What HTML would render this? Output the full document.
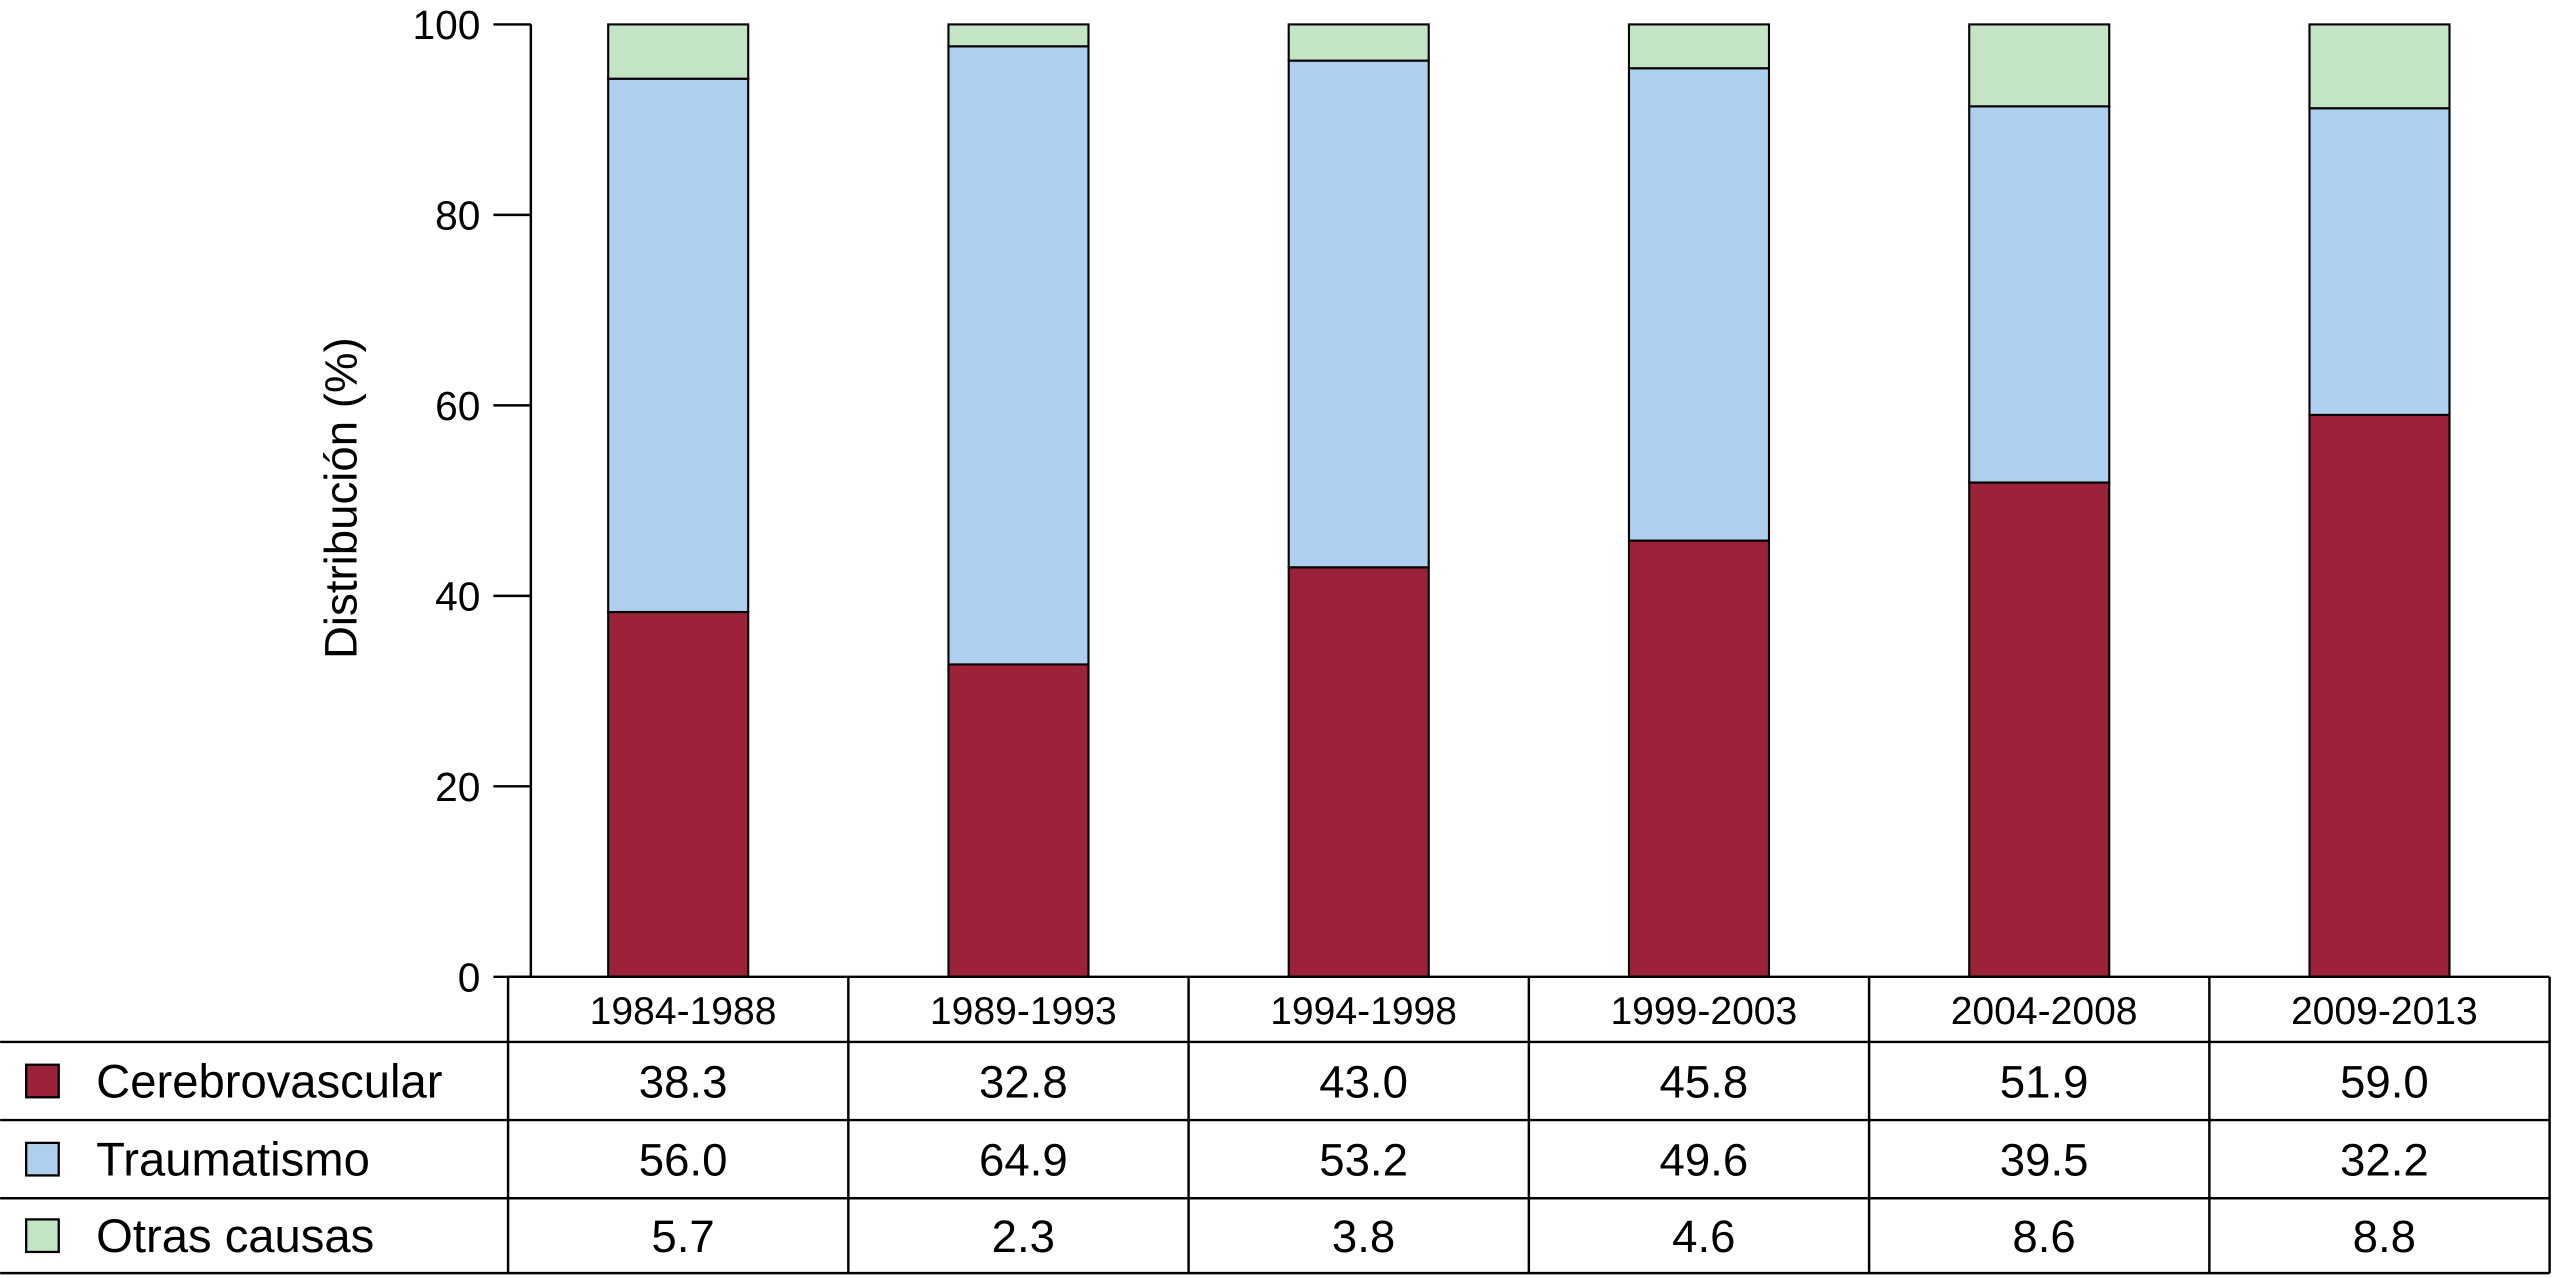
<!DOCTYPE html>
<html><head><meta charset="utf-8"><style>
html,body{margin:0;padding:0;background:#fff;}
svg{display:block;font-family:"Liberation Sans",sans-serif;}
</style></head><body>
<svg id="chart" width="2553" height="1278" viewBox="0 0 1568 785" xmlns="http://www.w3.org/2000/svg"></svg>
<script>
const categories=["1984-1988","1989-1993","1994-1998","1999-2003","2004-2008","2009-2013"];
const cerebro=[38.3,32.8,43.0,45.8,51.9,59.0];
const trauma=[56.0,64.9,53.2,49.6,39.5,32.2];
const otras=[5.7,2.3,3.8,4.6,8.6,8.8];
const seriesNames=["Cerebrovascular","Traumatismo","Otras causas"];
const yTicks=[0,20,40,60,80,100];

const svg=document.getElementById('chart');
const NS="http://www.w3.org/2000/svg";
function mk(t,a,p){const e=document.createElementNS(NS,t);for(const k in a)e.setAttribute(k,a[k]);(p||svg).appendChild(e);return e;}
const y0=600,yTop=15,axisX=326;
const yS=v=>y0-(v/100)*(y0-yTop);
const colL=312,colR=1566,colW=(colR-colL)/categories.length;
const xC=i=>colL+colW*(i+0.5);
const barW=86;
const colors=["#9b2238","#afcfee","#c3e5c5"];
const series=[cerebro,trauma,otras];

const ax=mk('line',{x1:axisX,y1:yTop,x2:axisX,y2:y0,stroke:'#000','stroke-width':1.5});


yTicks.forEach(v=>{
  const t=mk('line',{x1:303,y1:yS(v),x2:axisX,y2:yS(v),stroke:'#000','stroke-width':1.5});
  
  
  const l=mk('text',{x:295,y:yS(v)+9,'text-anchor':'end','font-size':25});
  l.textContent=String(v);
  
  
});
const yt=mk('text',{x:0,y:0,'text-anchor':'middle','font-size':28,transform:'translate(219,306) rotate(-90)'});
yt.textContent="Distribución (%)";



categories.forEach((c,i)=>{
  let base=0;
  series.forEach((s,k)=>{
    const top=(k===2)?100:base+s[i];
    const r=mk('rect',{x:xC(i)-barW/2,y:yS(top),width:barW,height:yS(base)-yS(top),fill:colors[k],stroke:'#000','stroke-width':1.3});
    
    
    base=top;
  });
});

const rows=[600,640,688,736,782];
const g=mk('g',{});


mk('line',{x1:colL,y1:600,x2:colR,y2:600,stroke:'#000','stroke-width':1.5},g);
for(let r=1;r<rows.length;r++)mk('line',{x1:0,y1:rows[r],x2:colR,y2:rows[r],stroke:'#000','stroke-width':1.5},g);
for(let i=0;i<=categories.length;i++)mk('line',{x1:colL+colW*i,y1:600,x2:colL+colW*i,y2:782,stroke:'#000','stroke-width':1.5},g);
categories.forEach((c,i)=>{
  const t=mk('text',{x:xC(i)+3,y:629,'text-anchor':'middle','font-size':24},g);
  t.textContent=c;
  
  
});
series.forEach((s,k)=>{
  const cy=(rows[k+1]+rows[k+2])/2;
  const sw=mk('rect',{x:16,y:cy-10,width:20,height:20,fill:colors[k],stroke:'#000','stroke-width':1.4},g);
  
  
  const n=mk('text',{x:59,y:cy+10,'font-size':29},g);
  n.textContent=seriesNames[k];
  
  
  s.forEach((v,i)=>{
    const t=mk('text',{x:xC(i)+3,y:cy+10,'text-anchor':'middle','font-size':28},g);
    t.textContent=v.toFixed(1);
    
    
  });
});
</script>
</body></html>
